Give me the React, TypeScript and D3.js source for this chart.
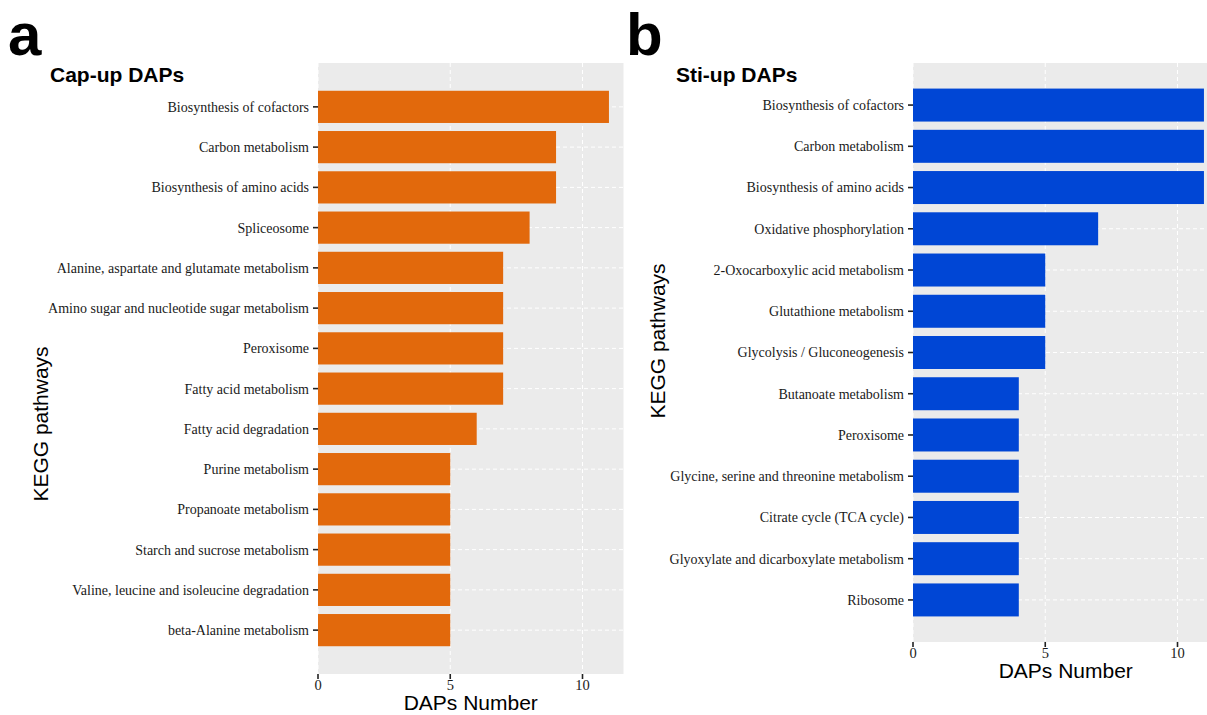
import React from "react";
import * as d3 from "d3";

// Cap-up DAPs (panel a)
const capPathways = [
  "Biosynthesis of cofactors",
  "Carbon metabolism",
  "Biosynthesis of amino acids",
  "Spliceosome",
  "Alanine, aspartate and glutamate metabolism",
  "Amino sugar and nucleotide sugar metabolism",
  "Peroxisome",
  "Fatty acid metabolism",
  "Fatty acid degradation",
  "Purine metabolism",
  "Propanoate metabolism",
  "Starch and sucrose metabolism",
  "Valine, leucine and isoleucine degradation",
  "beta-Alanine metabolism",
];
const capCounts = [11, 9, 9, 8, 7, 7, 7, 7, 6, 5, 5, 5, 5, 5];

// Sti-up DAPs (panel b)
const stiPathways = [
  "Biosynthesis of cofactors",
  "Carbon metabolism",
  "Biosynthesis of amino acids",
  "Oxidative phosphorylation",
  "2-Oxocarboxylic acid metabolism",
  "Glutathione metabolism",
  "Glycolysis / Gluconeogenesis",
  "Butanoate metabolism",
  "Peroxisome",
  "Glycine, serine and threonine metabolism",
  "Citrate cycle (TCA cycle)",
  "Glyoxylate and dicarboxylate metabolism",
  "Ribosome",
];
const stiCounts = [11, 11, 11, 7, 5, 5, 5, 4, 4, 4, 4, 4, 4];

const xTicks = [0, 5, 10];

const SERIF = "'Liberation Serif', 'DejaVu Serif', serif";
const SANS = "'Liberation Sans', Arial, sans-serif";

type PanelProps = {
  letter: string;
  letterX: number;
  title: string;
  titleX: number;
  categories: string[];
  values: number[];
  color: string;
  left: number;
  top: number;
  bottom: number;
  outerPad: number;
  yTitleX: number;
  yTitleY: number;
};

function Panel(p: PanelProps) {
  // ggplot-like: x from 0 with 5% expansion on the right
  const x = d3.scaleLinear().domain([0, 11.55]).range([p.left, p.left + 11.55 * 26.45]);
  const y = d3
    .scaleBand<string>()
    .domain(p.categories)
    .range([p.top, p.bottom])
    .paddingInner(0.2)
    .paddingOuter(p.outerPad);
  const right = x.range()[1];
  const bw = y.bandwidth();

  return (
    <g>
      <text x={p.letterX} y={55} fontFamily={SANS} fontWeight="bold" fontSize={60} fill="#000">
        {p.letter}
      </text>
      <text x={p.titleX} y={82} fontFamily={SANS} fontWeight="bold" fontSize={21} fill="#000">
        {p.title}
      </text>

      {/* panel background */}
      <rect x={p.left} y={p.top} width={right - p.left} height={p.bottom - p.top} fill="#EBEBEB" />

      {/* grid */}
      {xTicks.map((t) => (
        <line
          key={"v" + t}
          x1={x(t)}
          x2={x(t)}
          y1={p.top}
          y2={p.bottom}
          stroke="#fff"
          strokeWidth={1}
          strokeDasharray="4,3"
        />
      ))}
      {p.categories.map((c) => (
        <line
          key={"h" + c}
          x1={p.left}
          x2={right}
          y1={(y(c) ?? 0) + bw / 2}
          y2={(y(c) ?? 0) + bw / 2}
          stroke="#fff"
          strokeWidth={1}
          strokeDasharray="4,3"
        />
      ))}

      {/* bars */}
      {p.categories.map((c, i) => (
        <rect
          key={"b" + c}
          x={x(0)}
          y={y(c)}
          width={x(p.values[i]) - x(0)}
          height={bw}
          fill={p.color}
        />
      ))}

      {/* y axis */}
      {p.categories.map((c) => {
        const cy = (y(c) ?? 0) + bw / 2;
        return (
          <g key={"yt" + c}>
            <line x1={p.left - 5} x2={p.left} y1={cy} y2={cy} stroke="#222" strokeWidth={1.6} />
            <text
              x={p.left - 9}
              y={cy}
              dy="0.35em"
              textAnchor="end"
              fontFamily={SERIF}
              fontSize={14}
              fill="#1a1a1a"
            >
              {c}
            </text>
          </g>
        );
      })}

      {/* x axis */}
      {xTicks.map((t) => (
        <g key={"xt" + t}>
          <line x1={x(t)} x2={x(t)} y1={p.bottom} y2={p.bottom + 5} stroke="#222" strokeWidth={1.6} />
          <text
            x={x(t)}
            y={p.bottom + 16}
            textAnchor="middle"
            fontFamily={SERIF}
            fontSize={14.5}
            fill="#1a1a1a"
          >
            {t}
          </text>
        </g>
      ))}

      <text
        x={(p.left + right) / 2}
        y={p.bottom + 36}
        textAnchor="middle"
        fontFamily={SANS}
        fontSize={21}
        fill="#000"
      >
        DAPs Number
      </text>
      <text
        transform={`translate(${p.yTitleX},${p.yTitleY}) rotate(-90)`}
        textAnchor="middle"
        fontFamily={SANS}
        fontSize={21}
        fill="#000"
      >
        KEGG pathways
      </text>
    </g>
  );
}

export default function App() {
  return (
    <svg
      width={1207}
      height={715}
      style={{ position: "absolute", left: 0, top: 0, display: "block", background: "#fff" }}
    >
      <Panel
        letter="a"
        letterX={8}
        title="Cap-up DAPs"
        titleX={50}
        categories={capPathways}
        values={capCounts}
        color="#E2690C"
        left={318}
        top={63}
        bottom={674}
        outerPad={0.69}
        yTitleX={48}
        yTitleY={424}
      />
      <Panel
        letter="b"
        letterX={626}
        title="Sti-up DAPs"
        titleX={676}
        categories={stiPathways}
        values={stiCounts}
        color="#0046D5"
        left={913}
        top={63}
        bottom={642}
        outerPad={0.62}
        yTitleX={665}
        yTitleY={341}
      />
    </svg>
  );
}
